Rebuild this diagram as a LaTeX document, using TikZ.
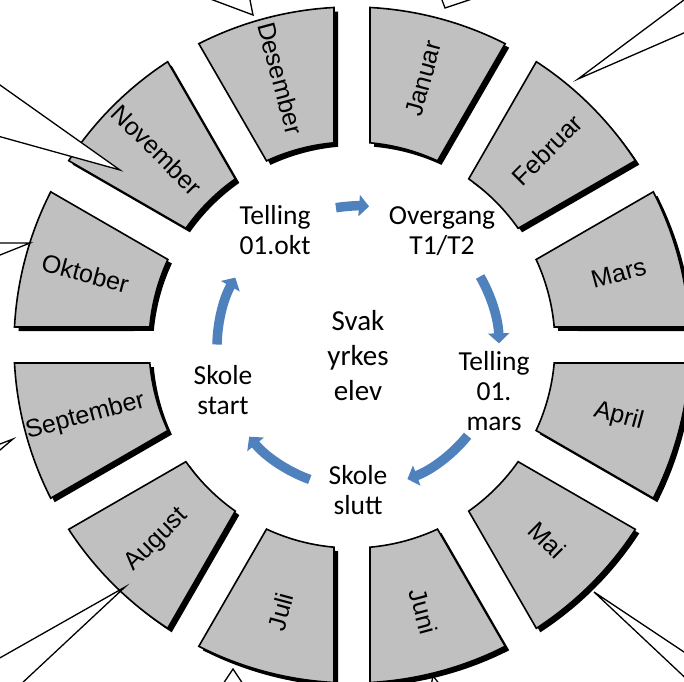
\documentclass[tikz,border=0pt]{standalone}
\usepackage{fontspec}
\newfontfamily\calfont{Carlito}
\newfontfamily\arialfont{Liberation Sans}
\usetikzlibrary{arrows.meta}
\definecolor{cycblue}{HTML}{4F81BD}
\definecolor{secgray}{HTML}{C0C0C0}
\begin{document}
\begin{tikzpicture}[x=1pt,y=1pt,
  sec/.style={fill=secgray,draw=black,line width=1.6pt,line join=miter},
  secshadow/.style={fill=black},
  month/.style={font=\arialfont\fontsize{25}{28}\selectfont,inner sep=0pt},
  cyctext/.style={font=\calfont\fontsize{27.5}{30}\selectfont,align=center,inner sep=0pt},
  centertext/.style={font=\calfont\fontsize{29}{35}\selectfont,align=center,inner sep=0pt},
  cyc/.style={draw=cycblue,line width=9.5pt,-{Triangle[length=10pt,width=21pt]}},
  callout/.style={fill=white,draw=black,line width=1.3pt,line join=miter}]
\useasboundingbox (0,0) rectangle (684,681);
\clip (0,0) rectangle (684,681);
\coordinate (O) at (352,336);
\coordinate (P) at (358,334);
% shadows
\foreach \b in {75,45,15,-15,-45,-75,-105,-135,-165,-195,-225,-255}{
  \fill[secshadow,shift={(4,-4)}] ([shift={(O)}]\b+11.95:338) arc[start angle=\b+11.95,end angle=\b-11.95,radius=338pt]
    -- ([shift={(O)}]\b-9.91:203) arc[start angle=\b-9.91,end angle=\b+9.91,radius=203pt] -- cycle;
}
% sectors
\foreach \b in {75,45,15,-15,-45,-75,-105,-135,-165,-195,-225,-255}{
  \draw[sec] ([shift={(O)}]\b+11.95:338) arc[start angle=\b+11.95,end angle=\b-11.95,radius=338pt]
    -- ([shift={(O)}]\b-9.91:203) arc[start angle=\b-9.91,end angle=\b+9.91,radius=203pt] -- cycle;
}
% month labels
\node[month,rotate=75]  (jan) at ([shift={(O)}]75:276) {Januar};
\node[month,rotate=45]  (feb) at ([shift={(O)}]45:276) {Februar};
\node[month,rotate=15]  (mar) at ([shift={(O)}]15:276) {Mars};
\node[month,rotate=-15] (apr) at ([shift={(O)}]-15:276) {April};
\node[month,rotate=-45] (mai) at ([shift={(O)}]-45:276) {Mai};
\node[month,rotate=-75] (jun) at ([shift={(O)}]-75:276) {Juni};
\node[month,rotate=75]  (jul) at ([shift={(O)}]-105:276) {Juli};
\node[month,rotate=45]  (aug) at ([shift={(O)}]-135:276) {August};
\node[month,rotate=15]  (sep) at ([shift={(O)}]-165:276) {September};
\node[month,rotate=-15] (okt) at ([shift={(O)}]165:276) {Oktober};
\node[month,rotate=-45] (nov) at ([shift={(O)}]135:276) {November};
\node[month,rotate=-75] (des) at ([shift={(O)}]105:276) {Desember};
% inner cycle
\node[cyctext] (tokt) at (275,451) {Telling\\01.okt};
\node[cyctext] (overg) at (442,450) {Overgang\\T1/T2};
\node[cyctext] (tmars) at (494,290) {Telling\\01.\\mars};
\node[cyctext] (sslutt) at (358,191) {Skole\\slutt};
\node[cyctext] (sstart) at (223,291) {Skole\\start};
\node[centertext] (svak) at (358,325) {Svak\\yrkes\\elev};
\coordinate (a1) at ([shift={(P)}]99:141);
\coordinate (a2) at ([shift={(P)}]30:141);
\coordinate (a3) at ([shift={(P)}]-39:141);
\coordinate (a4) at ([shift={(P)}]250:141);
\coordinate (a5) at ([shift={(P)}]179:141);
\draw[cyc] (a1) arc[start angle=99,end angle=85.5,radius=141pt];
\draw[cyc] (a2) arc[start angle=30,end angle=1.5,radius=141pt];
\draw[cyc] (a3) arc[start angle=-39,end angle=-69.5,radius=141pt];
\draw[cyc] (a4) arc[start angle=250,end angle=219.5,radius=141pt];
\draw[cyc] (a5) arc[start angle=179,end angle=150.5,radius=141pt];
% callouts
\coordinate (c1) at (253,666);
\coordinate (c2) at (445,673);
\coordinate (c3) at (578,602);
\coordinate (c4) at (120,511);
\coordinate (c5) at (30,438);
\coordinate (c6) at (13,242);
\coordinate (c7) at (125,94);
\coordinate (c8) at (233,12);
\coordinate (c9) at (433,5);
\coordinate (c10) at (594,89);
\draw[callout] (c1) -- (173,696) -- (247,696) -- cycle;
\draw[callout] (c2) -- (436,697) -- (517,697) -- cycle;
\draw[callout] (c3) -- (716,705) -- (716,662) -- cycle;
\draw[callout] (c4) -- (-24,613) -- (-24,551) -- cycle;
\draw[callout] (c5) -- (-15,438) -- (-15,420) -- cycle;
\draw[callout] (c6) -- (-13,232) -- (-13,220) -- cycle;
\draw[callout] (c7) -- (-25,9) -- (5,-18) -- cycle;
\draw[callout] (c8) -- (217,-12) -- (249,-12) -- cycle;
\draw[callout] (c9) -- (445,-10) -- (430,-10) -- cycle;
\draw[callout] (c10) -- (711,11) -- (711,-21) -- cycle;
\end{tikzpicture}
\end{document}
